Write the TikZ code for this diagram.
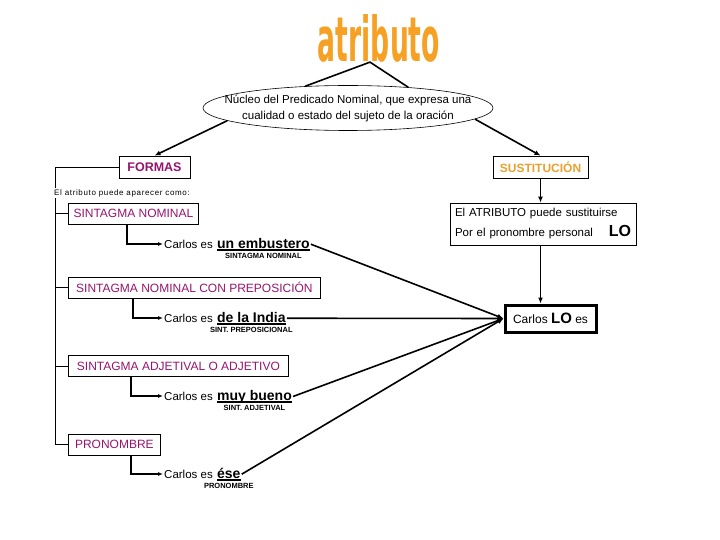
\documentclass[tikz,border=0pt]{standalone}
\usepackage{fontspec}
\setmainfont{Liberation Sans}
\newfontfamily\titlefont{DejaVu Sans}
\usepackage{graphicx}
\usetikzlibrary{arrows.meta, calc, positioning, shapes.geometric}
\definecolor{formcol}{RGB}{150,20,110}
\definecolor{sustcol}{RGB}{232,160,48}
\definecolor{titcol}{RGB}{246,160,36}
\newcommand{\subrayado}[1]{\setbox0\hbox{#1}\rlap{\rule[-2.4pt]{\wd0}{1.2pt}}\box0}
\tikzset{
  formbox/.style={draw, line width=0.8pt, inner sep=0pt, minimum height=21pt, text=formcol, font=\fontsize{12}{14}\selectfont},
  ejtext/.style={inner sep=1pt, font=\fontsize{11.5}{13}\selectfont},
  ejword/.style={inner sep=1pt, font=\fontsize{14}{16}\selectfont\bfseries},
  tipo/.style={inner sep=1pt, font=\fontsize{7.5}{9}\selectfont\bfseries},
  flecha/.style={line width=1.6pt, -{Latex[length=6pt,width=5pt]}},
  ejflecha/.style={line width=1.3pt, -{Latex[length=5pt,width=4pt]}},
}
\begin{document}
\begin{tikzpicture}[x=1pt, y=-1pt]
\useasboundingbox (0,0) rectangle (720,540);
% titulo
\node[inner sep=0pt, text=titcol] (tit) at (379,38) {\resizebox{122pt}{47pt}{\titlefont\bfseries atributo}};
\coordinate (apex) at ([xshift=-9pt]tit.south);
\node[ellipse, draw, line width=0.6pt, minimum width=290pt, minimum height=45pt, inner sep=0pt] (nucleo) at (348,108) {};
\node[align=center, inner sep=0pt, font=\fontsize{11.5}{16}\selectfont] (nucleotxt) at (nucleo.center)
  {Núcleo del Predicado Nominal, que expresa una\\cualidad o estado del sujeto de la oración};
\draw[line width=1.6pt] (nucleo.153) -- (apex) -- (nucleo.19);
\node[draw, line width=0.8pt, minimum width=71pt, minimum height=22pt, inner sep=0pt, text=formcol,
  font=\fontsize{12.5}{14}\selectfont\bfseries] (formas) at (154.5,167) {FORMAS};
\node[draw, line width=0.8pt, minimum width=95pt, minimum height=22pt, inner sep=0pt, text=sustcol,
  font=\fontsize{12}{14}\selectfont\bfseries] (sust) at (540.5,167) {SUSTITUCIÓN};
\draw[flecha] (nucleo.186) -- (formas.north);
\draw[flecha] (nucleo.-5) -- (sust.north);
% formas
\node[formbox, anchor=west, minimum width=130pt] (sn) at (68,213.5) {SINTAGMA NOMINAL};
\node[formbox, anchor=west, minimum width=252pt] (snp) at (68,287.5) {SINTAGMA NOMINAL CON PREPOSICIÓN};
\node[formbox, anchor=west, minimum width=220pt] (sadj) at (68,366) {SINTAGMA ADJETIVAL O ADJETIVO};
\node[formbox, anchor=west, minimum width=92pt] (pron) at (68,444.5) {PRONOMBRE};
\coordinate (llave) at (55,0);
\draw[line width=0.8pt] (formas.west) -| (llave |- pron.west) -- (pron.west);
\foreach \b in {sn,snp,sadj} \draw[line width=0.8pt] (llave |- \b.west) -- (\b.west);
\node[anchor=west, fill=white, inner sep=1pt, font=\fontsize{8}{9}\selectfont\addfontfeature{LetterSpace=8}] (intro) at (53,193) {El atributo puede aparecer como:};
% ejemplos
\node[ejtext, anchor=west] (c1) at (163,244) {Carlos es};
\node[ejword, anchor=base west] (w1) at ([xshift=2pt]c1.base east) {\subrayado{un embustero}};
\node[tipo, anchor=north] (t1) at (w1.south) {SINTAGMA NOMINAL};
\node[ejtext, anchor=west] (c2) at (163,318) {Carlos es};
\node[ejword, anchor=base west] (w2) at ([xshift=2pt]c2.base east) {\subrayado{de la India}};
\node[tipo, anchor=north] (t2) at (w2.south) {SINT. PREPOSICIONAL};
\node[ejtext, anchor=west] (c3) at (163,396) {Carlos es};
\node[ejword, anchor=base west] (w3) at ([xshift=2pt]c3.base east) {\subrayado{muy bueno}};
\node[tipo, anchor=north] (t3) at (w3.south) {SINT. ADJETIVAL};
\node[ejtext, anchor=west] (c4) at (163,474) {Carlos es};
\node[ejword, anchor=base west] (w4) at ([xshift=2pt]c4.base east) {\subrayado{ése}};
\node[tipo, anchor=north] (t4) at (w4.south) {PRONOMBRE};
\foreach \b/\c/\d in {sn/c1/59, snp/c2/65, sadj/c3/63, pron/c4/63}
  \draw[ejflecha] ([xshift=\d pt]\b.south west) |- (\c.west);
% sustitucion
\node[draw, line width=0.8pt, text width=176pt, inner xsep=5pt, inner ysep=0pt, minimum height=42pt, align=left,
  font=\fontsize{11.5}{20}\selectfont] (atr) at (543,224)
  {El ATRIBUTO puede sustituirse\\\makebox[\linewidth][s]{Por el pronombre personal\hfill{\fontsize{16}{16}\selectfont\bfseries LO}}};
\node[draw, line width=3pt, minimum width=91pt, minimum height=27pt, inner sep=0pt,
  font=\fontsize{12}{14}\selectfont] (lobox) at (550.5,318.5) {Carlos {\fontsize{15}{15}\selectfont\bfseries LO} es};
\coordinate (bajada) at (sust.south |- lobox.north);
\draw[flecha] (sust.south) -- (sust.south |- atr.north);
\draw[flecha] (sust.south |- atr.south) -- (bajada);
\foreach \w in {w1,w2,w3,w4} \draw[flecha] (\w.east) -- (lobox.west);
\end{tikzpicture}
\end{document}
